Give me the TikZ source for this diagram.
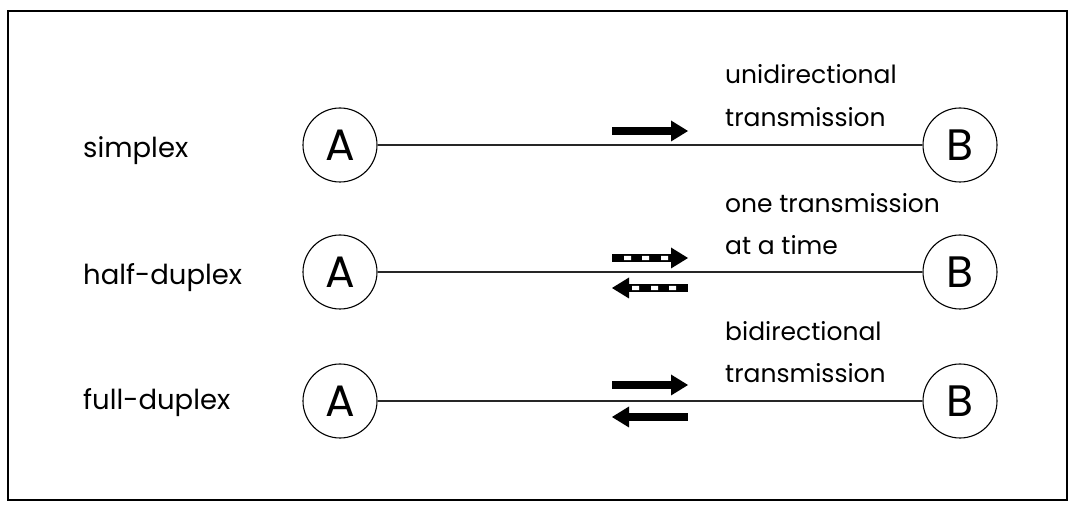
\documentclass[tikz,border=0pt]{standalone}
\usepackage{fontspec}
\setmainfont{Poppins}
\begin{document}
\begin{tikzpicture}[x=1pt,y=-1pt,
  station/.style={draw,circle,minimum size=74pt,inner sep=0pt,line width=1.1pt,
    font=\fontsize{44}{48}\selectfont},
  rowname/.style={anchor=base west,inner sep=0pt,font=\fontsize{27.5}{32}\selectfont},
  lab/.style={anchor=base west,inner sep=0pt,font=\fontsize{25}{30}\selectfont},
  link/.style={line width=1.5pt,draw=black!85},
  fatarrow/.pic={\fill (0,-4) rectangle (59,4); \fill (59,-10.5) -- (76,0) -- (59,10.5) -- cycle;},
  dasharrow/.pic={\fill (0,-4) rectangle (59,4); \fill (59,-10.5) -- (76,0) -- (59,10.5) -- cycle;
     \fill[white] (12,-2.2) rectangle (19,2.2) (30,-2.2) rectangle (37,2.2) (49,-2.2) rectangle (56,2.2);}
]
\useasboundingbox (0,0) rectangle (1074,510);
\draw[line width=2pt] (8,11) rectangle (1067,500);

% rows
\node[rowname] (n1) at (83,158) {simplex};
\node[rowname] (n2) at (83,285) {half-duplex};
\node[rowname] (n3) at (83,410) {full-duplex};

\node[station] (A1) at (340,145) {A};
\node[station] (B1) at (960,145) {B};
\node[station] (A2) at (340,272) {A};
\node[station] (B2) at (960,272) {B};
\node[station] (A3) at (340,401) {A};
\node[station] (B3) at (960,401) {B};

\draw[link] (A1) -- (B1);
\draw[link] (A2) -- (B2);
\draw[link] (A3) -- (B3);

% arrows
\pic at (612,131) {fatarrow};
\pic at (612,258) {dasharrow};
\pic[rotate=180] at (688,288) {dasharrow};
\pic at (612,385) {fatarrow};
\pic[rotate=180] at (688,417) {fatarrow};

% labels
\node[lab] (l1a) at (725,84) {unidirectional};
\node[lab] (l1b) at (725,127) {transmission};
\node[lab] (l2a) at (725,213) {one transmission};
\node[lab] (l2b) at (725,255) {at a time};
\node[lab] (l3a) at (725,341) {bidirectional};
\node[lab] (l3b) at (725,383) {transmission};
\end{tikzpicture}
\end{document}
